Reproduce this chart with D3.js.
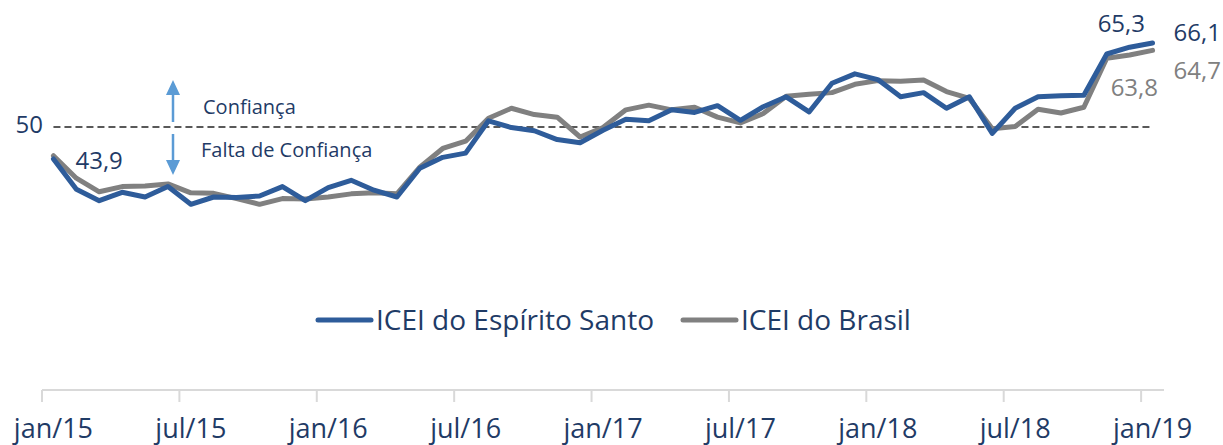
<!DOCTYPE html>
<html>
<head>
<meta charset="utf-8">
<script src="https://cdn.jsdelivr.net/npm/d3@7"></script>
<style>
  body { margin: 0; background: #fff; }
  svg text { font-family: "Open Sans", sans-serif; }
</style>
</head>
<body>
<div id="chart"></div>
<script>
var monthNames = ["jan", "fev", "mar", "abr", "mai", "jun", "jul", "ago", "set", "out", "nov", "dez"];
var years = ["15", "16", "17", "18", "19"];

// jan/15 .. jan/19
var months = [];
years.forEach(function(yr) {
    monthNames.forEach(function(m) { months.push(m + "/" + yr); });
});
months = months.slice(0, 49);

var tickLabels = ["jan/15", "jul/15", "jan/16", "jul/16", "jan/17", "jul/17", "jan/18", "jul/18", "jan/19"];

var iceiES = [43.9, 38.1, 35.9, 37.5, 36.6, 38.6, 35.2, 36.6, 36.5, 36.8, 38.6, 35.9,
              38.4, 39.8, 37.9, 36.6, 42.1, 44.2, 45.0, 51.2, 49.9, 49.3, 47.6, 47.0,
              49.4, 51.5, 51.2, 53.3, 52.8, 54.1, 51.3, 53.9, 55.8, 52.9, 58.4, 60.2,
              59.1, 55.8, 56.6, 53.6, 55.8, 48.8, 53.6, 55.8, 56.0, 56.1, 64.0, 65.3,
              66.1];

var iceiBR = [44.5, 40.2, 37.6, 38.6, 38.7, 39.1, 37.4, 37.3, 36.3, 35.2, 36.3, 36.2,
              36.6, 37.2, 37.4, 37.2, 42.3, 45.9, 47.3, 51.7, 53.6, 52.4, 51.9, 48.1,
              49.9, 53.3, 54.2, 53.3, 53.8, 51.9, 50.8, 52.6, 55.9, 56.3, 56.6, 58.2,
              58.9, 58.8, 59.0, 56.8, 55.5, 49.7, 50.1, 53.4, 52.7, 53.8, 63.2, 63.8,
              64.7];

var seriesNames = ["ICEI do Espírito Santo", "ICEI do Brasil"];
var threshold = 50;

var width = 1223, height = 445;
var blue = "#2E5C9A", gray = "#808080", textBlue = "#1F3B66", arrowBlue = "#5B9BD5";

var svg = d3.select("#chart")
            .append("svg")
            .attr("width", width)
            .attr("height", height);

var x = d3.scaleBand().domain(months).range([42, 1164]).padding(0);
var bw = x.bandwidth();
var cx = function(m) { return x(m) + bw / 2; };

var y = d3.scaleLinear().domain([0, 70]).range([388, 22.7]);

// x axis
var axis = svg.append("g")
    .attr("transform", "translate(0,390)")
    .call(d3.axisBottom(x).tickValues(tickLabels).tickSize(12).tickSizeOuter(0));
axis.select(".domain").attr("stroke", "#D9D9D9").attr("stroke-width", 2)
    .attr("d", "M42,0H1164");
axis.selectAll(".tick line")
    .attr("stroke", "#D9D9D9")
    .attr("stroke-width", 2)
    .attr("x1", -bw / 2).attr("x2", -bw / 2);
axis.selectAll(".tick text")
    .attr("fill", textBlue)
    .style("font-size", "27px")
    .attr("y", 48)
    .attr("dy", 0);

// threshold line
svg.append("line")
    .attr("x1", cx(months[0])).attr("x2", cx(months[48]))
    .attr("y1", y(threshold)).attr("y2", y(threshold))
    .attr("stroke", "#595959")
    .attr("stroke-width", 2)
    .attr("stroke-dasharray", "7,4");

svg.append("text")
    .attr("x", 43).attr("y", y(threshold) + 6)
    .attr("text-anchor", "end")
    .attr("fill", textBlue)
    .style("font-size", "24px")
    .text(threshold);

// arrows
var ax = 173;
svg.append("line").attr("x1", ax).attr("x2", ax).attr("y1", 122).attr("y2", 94)
    .attr("stroke", arrowBlue).attr("stroke-width", 2.5);
svg.append("path").attr("d", "M" + (ax - 7) + ",95L" + ax + ",80L" + (ax + 7) + ",95Z")
    .attr("fill", arrowBlue);
svg.append("line").attr("x1", ax).attr("x2", ax).attr("y1", 134).attr("y2", 161)
    .attr("stroke", arrowBlue).attr("stroke-width", 2.5);
svg.append("path").attr("d", "M" + (ax - 7) + ",160L" + ax + ",175L" + (ax + 7) + ",160Z")
    .attr("fill", arrowBlue);

svg.append("text").attr("x", 203).attr("y", 114)
    .attr("fill", textBlue).style("font-size", "20px").text("Confiança");
svg.append("text").attr("x", 201).attr("y", 157)
    .attr("fill", textBlue).style("font-size", "20px").text("Falta de Confiança");

// lines
var line = d3.line()
    .x(function(d, i) { return cx(months[i]); })
    .y(function(d) { return y(d); });

svg.append("path").datum(iceiBR)
    .attr("fill", "none").attr("stroke", gray).attr("stroke-width", 5)
    .attr("stroke-linejoin", "round").attr("stroke-linecap", "round")
    .attr("d", line);

svg.append("path").datum(iceiES)
    .attr("fill", "none").attr("stroke", blue).attr("stroke-width", 5)
    .attr("stroke-linejoin", "round").attr("stroke-linecap", "round")
    .attr("d", line);

// value labels
var fmt = function(v) { return d3.format(".1f")(v).replace(".", ","); };
var labels = [
    {v: iceiES[0], x: cx(months[0]) + 22, y: y(iceiES[0]) + 10, c: textBlue},
    {v: iceiES[47], x: cx(months[47]) - 32, y: y(iceiES[47]) - 15, c: textBlue},
    {v: iceiES[48], x: cx(months[48]) + 21, y: y(iceiES[48]) - 2, c: textBlue},
    {v: iceiBR[47], x: cx(months[47]) - 19, y: y(iceiBR[47]) + 41, c: gray},
    {v: iceiBR[48], x: cx(months[48]) + 21, y: y(iceiBR[48]) + 29, c: gray}
];
svg.selectAll(".vlabel")
    .data(labels)
    .enter()
    .append("text")
    .attr("class", "vlabel")
    .attr("x", function(d) { return d.x; })
    .attr("y", function(d) { return d.y; })
    .attr("fill", function(d) { return d.c; })
    .style("font-size", "24px")
    .text(function(d) { return fmt(d.v); });

// legend
var legend = [
    {name: seriesNames[0], color: blue, x: 318},
    {name: seriesNames[1], color: gray, x: 683}
];
var lg = svg.selectAll(".legend").data(legend).enter().append("g")
    .attr("class", "legend")
    .attr("transform", function(d) { return "translate(" + d.x + ",320)"; });
lg.append("line").attr("x1", 0).attr("x2", 53).attr("y1", 0).attr("y2", 0)
    .attr("stroke", function(d) { return d.color; })
    .attr("stroke-width", 5).attr("stroke-linecap", "round");
lg.append("text").attr("x", 58).attr("y", 10)
    .attr("fill", textBlue).style("font-size", "28px")
    .text(function(d) { return d.name; });
</script>
</body>
</html>
